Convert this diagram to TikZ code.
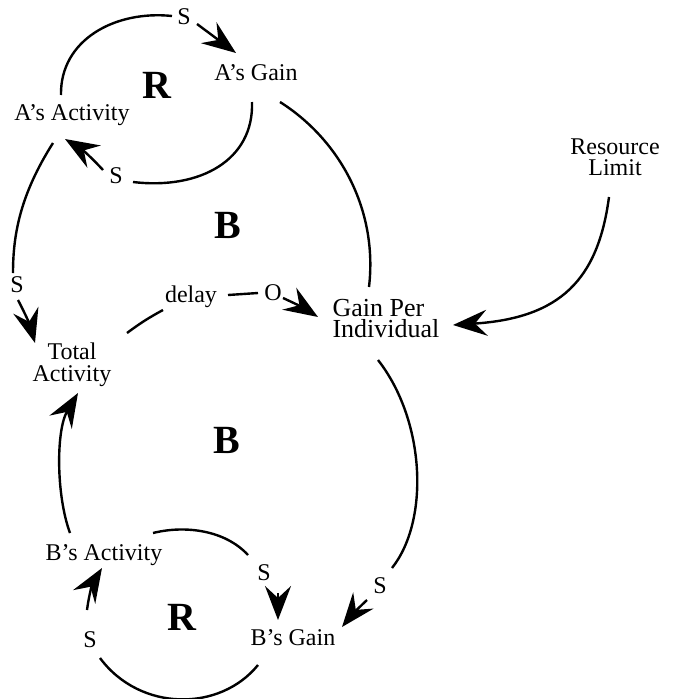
\documentclass[tikz,border=0pt]{standalone}
\usepackage{fontspec}
\setmainfont{Liberation Serif}
\usetikzlibrary{arrows.meta}
\tikzset{
  var/.style={font=\fontsize{24}{22}\selectfont, inner sep=0pt, anchor=base},
  multivar/.style={font=\fontsize{24}{22}\selectfont, inner sep=0pt, anchor=center},
  sign/.style={font=\fontsize{24}{22}\selectfont, inner sep=0pt, anchor=base},
  loopname/.style={font=\fontsize{40}{40}\selectfont\bfseries, inner sep=0pt, anchor=base},
  link/.style={line width=2.4pt},
  arr/.style={line width=2.4pt, -{Stealth[length=34pt,width=26pt,inset=12pt]}}
}
\begin{document}
\begin{tikzpicture}[x=1pt,y=-1pt]
\useasboundingbox (0,0) rectangle (677,699);

% variables
\node[var] (again) at (256,80) {A's Gain};
\node[var] (aact)  at (72,120) {A's Activity};
\node[multivar, align=center] (total) at (72,365) {Total\\Activity};
\node[multivar, align=left, font=\fontsize{26}{21}\selectfont] (gpi) at (386,319) {Gain Per\\Individual};
\node[multivar, align=center, font=\fontsize{24}{21}\selectfont] (res) at (615,157) {Resource\\Limit};
\node[var] (bact)  at (104,560) {B's Activity};
\node[var] (bgain) at (293,645) {B's Gain};

% link polarity and delay marks
\node[sign] (s1) at (184,24) {S};
\node[sign] (s2) at (116,183) {S};
\node[sign] (s3) at (17,292) {S};
\node[sign] (delay) at (191,302) {delay};
\node[sign] (o) at (273,300) {O};
\node[sign] (s4) at (264,580) {S};
\node[sign] (s5) at (380,593) {S};
\node[sign] (s6) at (90,647) {S};

% loop identifiers
\node[loopname] (r1) at (157,98) {R};
\node[loopname] (b1) at (228,238) {B};
\node[loopname] (b2) at (227,453) {B};
\node[loopname] (r2) at (182,630) {R};

% upper reinforcing loop
\draw[link] ([shift={(-11,-25)}]aact.base) .. controls (60,40) and (115,10) .. ([shift={(-12,-8)}]s1.base);
\draw[arr] ([shift={(13,0)}]s1.base) -- ([shift={(-20,-27)}]again.base);
\draw[link] ([shift={(-4,22)}]again.base) .. controls (254,160) and (200,190) .. ([shift={(17,-1)}]s2.base);
\draw[arr] ([shift={(-13,-13)}]s2.base) to[bend right=8] ([shift={(-7,19)}]aact.base);

% A's activity into total activity
\draw[link] ([shift={(-19,23)}]aact.base) .. controls (20,195) and (13,235) .. ([shift={(-4,-19)}]s3.base);
\draw[arr] ([shift={(1,8)}]s3.base) to[bend left=6] ([shift={(-37,-22)}]total.center);

% delayed effect of total activity on gain per individual
\draw[link] ([shift={(55,-32)}]total.center) to[bend left=4] ([shift={(-28,8)}]delay.base);
\draw[link] ([shift={(37,-7)}]delay.base) -- ([shift={(-15,-7)}]o.base);
\draw[arr] ([shift={(10,-2)}]o.base) to[bend left=4] ([shift={(-68,-2)}]gpi.center);

% gain per individual links
\draw[link] ([shift={(24,22)}]again.base) .. controls (340,140) and (378,210) .. ([shift={(-17,-32)}]gpi.center);
\draw[arr] ([shift={(-6,40)}]res.center) .. controls (598,280) and (560,318) .. ([shift={(67,6)}]gpi.center);
\draw[link] ([shift={(-8,41)}]gpi.center) .. controls (425,420) and (430,520) .. ([shift={(12,-25)}]s5.base);
\draw[arr] ([shift={(-13,7)}]s5.base) to[bend right=4] ([shift={(49,-18)}]bgain.base);

% lower reinforcing loop
\draw[link] ([shift={(49,-27)}]bact.base) .. controls (185,525) and (225,530) .. ([shift={(-16,-25)}]s4.base);
\draw[arr] ([shift={(14,13)}]s4.base) -- ([shift={(-15,-25)}]bgain.base);
\draw[link] ([shift={(-35,20)}]bgain.base) .. controls (220,712) and (140,712) .. ([shift={(10,11)}]s6.base);
\draw[arr] ([shift={(-3,-37)}]s6.base) to[bend left=12] ([shift={(-2,8)}]bact.base);

% B's activity into total activity
\draw[arr] ([shift={(-34,-27)}]bact.base) .. controls (56,495) and (56,430) .. ([shift={(6,28)}]total.center);
\end{tikzpicture}
\end{document}
